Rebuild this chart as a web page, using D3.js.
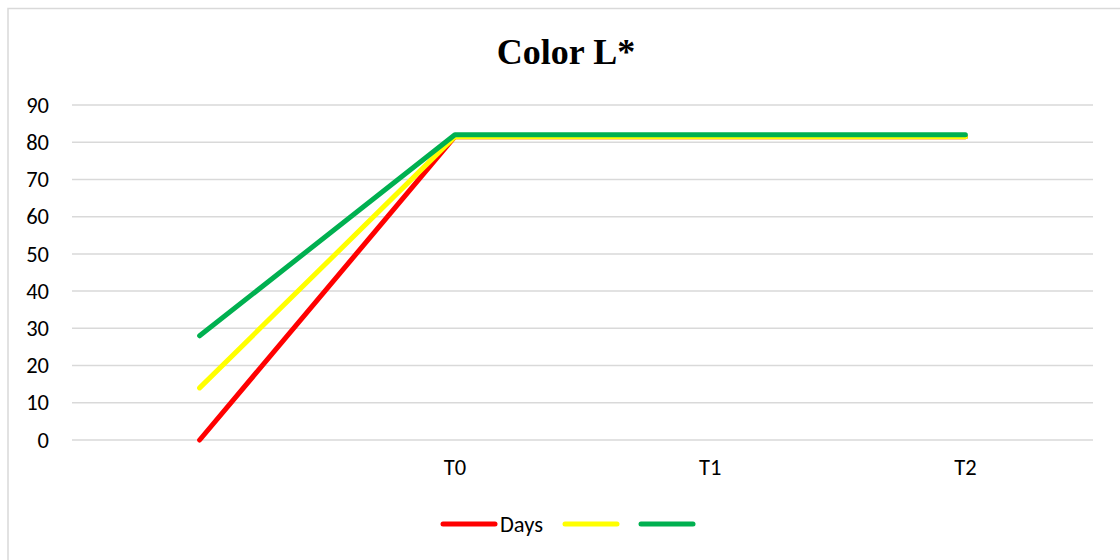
<!DOCTYPE html>
<html>
<head>
<meta charset="utf-8">
<script src="https://cdn.jsdelivr.net/npm/d3@7"></script>
<style>
  html, body { margin: 0; padding: 0; background: #fff; }
  svg { display: block; }
</style>
</head>
<body>
<svg id="chart" width="1120" height="560"></svg>
<script>
// Category labels along the x axis (the first one is left blank)
const categories = ["", "T0", "T1", "T2"];

// L* values per series
const redValues = [0, 81.5, 81.5, 81.5];
const yellowValues = [14, 81.5, 81.5, 81.5];
const greenValues = [28, 82, 82, 82];

const seriesNames = ["Days", "", ""];
const seriesColors = ["#ff0000", "#ffff00", "#00b050"];

const yTicks = [0, 10, 20, 30, 40, 50, 60, 70, 80, 90];

const series = [redValues, yellowValues, greenValues].map((vals, i) => ({
  name: seriesNames[i],
  color: seriesColors[i],
  values: vals
}));

const W = 1120, H = 560;
const svg = d3.select("#chart");

// Outer chart frame
svg.append("rect")
  .attr("x", 8).attr("y", 8.5)
  .attr("width", W + 10).attr("height", H + 10)
  .attr("fill", "none")
  .attr("stroke", "#d9d9d9")
  .attr("stroke-width", 1.5);

// Title
svg.append("text")
  .attr("x", 566).attr("y", 64)
  .attr("text-anchor", "middle")
  .attr("font-family", "'Liberation Serif', 'Times New Roman', serif")
  .attr("font-weight", "bold")
  .attr("font-size", 36)
  .attr("fill", "#000")
  .text("Color L*");

const x = d3.scaleBand()
  .domain(d3.range(categories.length))
  .range([72, 1093])
  .paddingInner(0).paddingOuter(0);

const y = d3.scaleLinear()
  .domain([0, 90])
  .range([440, 105]);

// Horizontal gridlines
svg.append("g")
  .selectAll("line")
  .data(yTicks)
  .join("line")
  .attr("x1", 72).attr("x2", 1093)
  .attr("y1", d => y(d)).attr("y2", d => y(d))
  .attr("stroke", "#d9d9d9")
  .attr("stroke-width", 1.5);

const labelFont = "Carlito, Calibri, 'Open Sans', 'Liberation Sans', sans-serif";
const labelSize = 22.5;

// Y axis labels
const yAxis = d3.axisLeft(y).tickValues(yTicks).tickSize(0).tickPadding(0);
const gy = svg.append("g")
  .attr("transform", "translate(49,0)")
  .call(yAxis);
gy.select(".domain").remove();
gy.selectAll("text")
  .attr("font-family", labelFont)
  .attr("font-size", labelSize)
  .attr("fill", "#000");

// X axis labels
const xAxis = d3.axisBottom(x).tickFormat(i => categories[i]).tickSize(0).tickPadding(0);
const gx = svg.append("g")
  .attr("transform", "translate(0,459)")
  .call(xAxis);
gx.select(".domain").remove();
gx.selectAll("text")
  .attr("font-family", labelFont)
  .attr("font-size", labelSize)
  .attr("fill", "#000");

// Series lines
const line = d3.line()
  .x((d, i) => x(i) + x.bandwidth() / 2)
  .y(d => y(d));

svg.append("g")
  .selectAll("path")
  .data(series)
  .join("path")
  .attr("d", d => line(d.values))
  .attr("fill", "none")
  .attr("stroke", d => d.color)
  .attr("stroke-width", 5)
  .attr("stroke-linecap", "round")
  .attr("stroke-linejoin", "round");

// Legend
const legendItems = [
  { x: 443, ...series[0] },
  { x: 565, ...series[1] },
  { x: 641, ...series[2] }
];
const lg = svg.append("g");
legendItems.forEach(item => {
  lg.append("line")
    .attr("x1", item.x).attr("x2", item.x + 52)
    .attr("y1", 524).attr("y2", 524)
    .attr("stroke", item.color)
    .attr("stroke-width", 5)
    .attr("stroke-linecap", "round");
  if (item.name) {
    lg.append("text")
      .attr("x", item.x + 57).attr("y", 532)
      .attr("font-family", labelFont)
      .attr("font-size", labelSize)
      .attr("fill", "#000")
      .text(item.name);
  }
});
</script>
</body>
</html>
